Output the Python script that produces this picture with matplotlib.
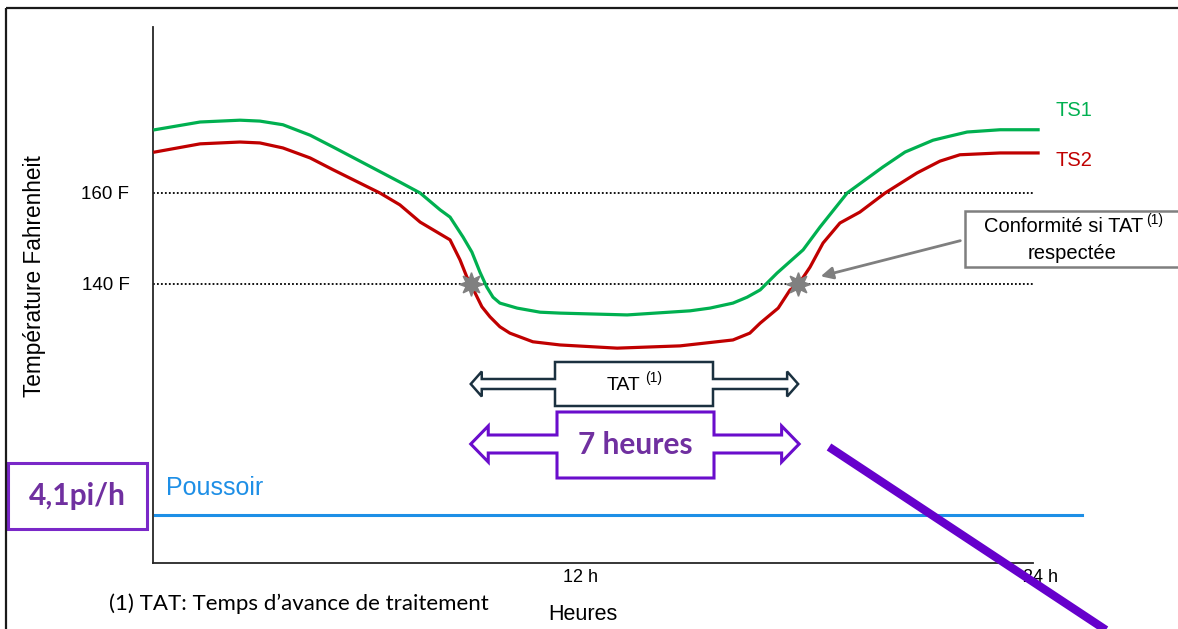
import numpy as np
import matplotlib.pyplot as plt
from matplotlib.patches import Polygon, Rectangle, FancyArrowPatch
from matplotlib.transforms import Affine2D, blended_transform_factory

W, H = 1178, 629

# hours / degrees F
hours_ts1 = [0.91, 2.09, 3.13, 3.65, 4.25, 4.96, 5.56, 7.30, 7.83, 8.35, 8.61, 8.95, 9.18,
             9.39, 9.57, 9.73, 9.91, 10.36, 10.96, 11.48, 13.23, 14.87, 15.39, 15.99,
             16.36, 16.70, 17.14, 17.82, 18.26, 18.97, 19.90, 20.48, 21.21, 21.65,
             22.10, 22.96, 23.95]
temp_ts1 = [173.9, 175.6, 176.0, 175.8, 175.0, 172.7, 170.1, 162.4, 160.0, 156.3, 154.7,
            150.3, 147.0, 142.6, 139.3, 137.1, 135.8, 134.7, 133.8, 133.6, 133.2, 134.1,
            134.7, 135.8, 137.1, 138.7, 142.4, 147.5, 152.5, 160.0, 165.7, 169.0, 171.6,
            172.5, 173.4, 173.9, 173.9]
hours_ts2 = [0.91, 2.09, 3.13, 3.65, 4.25, 4.96, 5.56, 6.78, 7.30, 7.83, 8.61, 8.87, 9.05,
             9.16, 9.44, 9.65, 9.91, 10.17, 10.77, 11.48, 12.97, 14.61, 15.99, 16.43,
             16.70, 17.17, 17.48, 17.69, 18.00, 18.34, 18.78, 19.30, 19.96, 20.79, 21.39,
             21.91, 22.96, 23.95]
temp_ts2 = [169.0, 170.8, 171.2, 171.0, 169.9, 167.7, 165.1, 160.0, 157.4, 153.6, 149.7,
            145.3, 141.5, 139.8, 135.0, 132.8, 130.6, 129.2, 127.3, 126.6, 125.9, 126.4,
            127.7, 129.2, 131.4, 134.7, 138.7, 139.8, 143.7, 149.0, 153.4, 155.8, 160.0,
            164.4, 167.0, 168.4, 168.8, 168.8]
ref_temps = [160, 140]
ref_labels = ['160 F', '140 F']
tat_hours = [9.15, 17.69]
tat_temp = 140
poussoir_level = 89.2
poussoir_end = 25.1
x_ticks = [12, 24]
x_tick_labels = ['12 h', '24 h']

plt.rcParams['font.family'] = ['Liberation Sans', 'DejaVu Sans']

fig = plt.figure(figsize=(W / 100, H / 100), dpi=100)
ax = fig.add_axes([153 / W, 1 - 563 / H, 880 / W, 536 / H])
ax.set_xlim(0.861, 23.817)
ax.set_ylim(78.68, 196.48)

# pixel coords (from top-left) -> figure
px = Affine2D().scale(1 / W, -1 / H).translate(0, 1) + fig.transFigure

for s in ['top', 'right']:
    ax.spines[s].set_visible(False)
for s in ['left', 'bottom']:
    ax.spines[s].set_color('#262626')
    ax.spines[s].set_linewidth(1.3)
ax.set_xticks([])
ax.set_yticks(ref_temps)
ax.set_yticklabels(ref_labels, fontsize=13.5)
ax.tick_params(axis='y', length=0, pad=17)

for t in ref_temps:
    ax.axhline(t, color='black', lw=1.3, ls=(0, (1, 1.2)), zorder=1)

ax.plot(hours_ts1, temp_ts1, color='#00B050', lw=2.3, clip_on=False, zorder=3,
        solid_joinstyle='round')
ax.plot(hours_ts2, temp_ts2, color='#C00000', lw=2.3, clip_on=False, zorder=3,
        solid_joinstyle='round')
ax.plot(tat_hours, [tat_temp] * 2, ls='none', marker=(8, 1, 0), ms=17,
        color='#808080', zorder=4)
fig.text(1055 / W, 1 - 110 / H, 'TS1', color='#00B050', fontsize=14.5, va='center')
fig.text(1055 / W, 1 - 160 / H, 'TS2', color='#C00000', fontsize=14.5, va='center')

ax.plot([hours_ts1[0], poussoir_end], [poussoir_level] * 2, color='#1E8FE6', lw=2.2,
        clip_on=False)
fig.text(166 / W, 1 - 488 / H, 'Poussoir', color='#1E8FE6', fontsize=18, va='center')

for h, lab in zip(x_ticks, x_tick_labels):
    ax.text(h, 1 - 578 / H, lab, transform=blended_transform_factory(ax.transData, fig.transFigure),
            ha='center', va='center', fontsize=13)
fig.text(583 / W, 1 - 614 / H, 'Heures', ha='center', va='center', fontsize=15.5)
fig.text(35 / W, 1 - 276 / H, 'Température Fahrenheit', rotation=90, ha='center',
         va='center', fontsize=16.3)
fig.text(109 / W, 1 - 604 / H, '(1) TAT: Temps d\u2019avance de traitement', ha='left',
         va='center', fontsize=16, family='Lato')


def double_arrow(x0, x1, yc, sh, hh, hl, bx0, bx1, by0, by1, color, lw):
    pts = [(x0, yc), (x0 + hl, yc - hh), (x0 + hl, yc - sh), (bx0, yc - sh), (bx0, by0),
           (bx1, by0), (bx1, yc - sh), (x1 - hl, yc - sh), (x1 - hl, yc - hh), (x1, yc),
           (x1 - hl, yc + hh), (x1 - hl, yc + sh), (bx1, yc + sh), (bx1, by1),
           (bx0, by1), (bx0, yc + sh), (x0 + hl, yc + sh), (x0 + hl, yc + hh)]
    fig.add_artist(Polygon(pts, closed=True, transform=px, facecolor='white',
                           edgecolor=color, lw=lw, joinstyle='miter'))


x0p = ax.transData.transform((tat_hours[0], tat_temp))[0]
x1p = ax.transData.transform((tat_hours[1], tat_temp))[0]
double_arrow(x0p, x1p, 384, 5, 12.5, 11, 555, 713, 362, 406, '#1B3140', 1.8)
double_arrow(x0p, x1p + 1, 444, 9, 18, 17.5, 557, 714, 412, 478, '#6A0DCC', 2.2)
fig.text(640 / W, 1 - 385 / H, 'TAT', ha='right', va='center', fontsize=14)
fig.text(645 / W, 1 - 378 / H, '(1)', ha='left', va='center', fontsize=10)
fig.text(635 / W, 1 - 445 / H, '7 heures', ha='center', va='center', fontsize=21.5,
         family='Lato', weight='bold', color='#7030A0')

# 4,1pi/h box
fig.add_artist(Rectangle((8, 463), 139, 66, transform=px, facecolor='white',
                         edgecolor='#7A28C8', lw=2.2))
fig.text(77 / W, 1 - 496 / H, '4,1pi/h', ha='center', va='center', fontsize=21.5,
         family='Lato', weight='bold', color='#7030A0')

# conformity callout
fig.add_artist(Rectangle((965, 211), 260, 56, transform=px, facecolor='white',
                         edgecolor='#7F7F7F', lw=1.8))
fig.text(1143 / W, 1 - 226 / H, 'Conformité si TAT', ha='right', va='center', fontsize=14.5)
fig.text(1146 / W, 1 - 220 / H, '(1)', ha='left', va='center', fontsize=10)
fig.text(1072 / W, 1 - 253 / H, 'respectée', ha='center', va='center', fontsize=14.5)
fig.add_artist(FancyArrowPatch((963, 240), (818, 277), transform=px, color='#7F7F7F',
                               lw=2, arrowstyle='-|>', mutation_scale=18))

# purple strike line
fig.add_artist(plt.Line2D([829, 1115], [447, 636], transform=px, color='#6600CC',
                          lw=6, solid_capstyle='butt'))

# outer frame
fig.add_artist(Rectangle((6, 8), 1300, 700, transform=px, fill=False,
                         edgecolor='#1a1a1a', lw=1.6))

fig.savefig('out.png', dpi=100)
